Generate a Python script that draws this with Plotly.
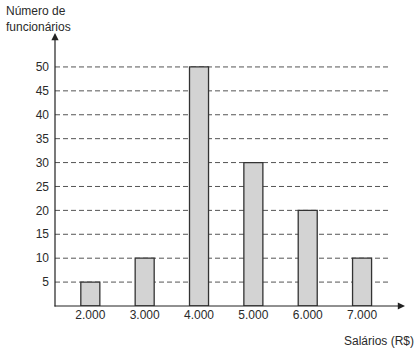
import plotly.graph_objects as go

categorias = ["2.000", "3.000", "4.000", "5.000", "6.000", "7.000"]
funcionarios = [5, 10, 50, 30, 20, 10]
y_ticks = [5, 10, 15, 20, 25, 30, 35, 40, 45, 50]

xpos = list(range(len(categorias)))

fig = go.Figure()
fig.add_trace(go.Bar(
    x=xpos, y=funcionarios, width=0.35,
    marker=dict(color="#d3d3d3", line=dict(color="#333333", width=1.3)),
))

shapes = []
for t in y_ticks:
    shapes.append(dict(type="line", xref="paper", yref="y", x0=0, x1=0.957, y0=t, y1=t,
                       line=dict(color="#555555", width=1, dash="5px,3px"), layer="below"))
fig.update_layout(shapes=shapes)

font = dict(family="Liberation Sans, Arial, sans-serif", size=12, color="#2a2a2a")

fig.update_layout(
    width=420, height=352,
    margin=dict(l=55, r=15, t=33, b=46),
    paper_bgcolor="white", plot_bgcolor="white",
    showlegend=False,
    font=font,
    xaxis=dict(range=[-0.65, 5.79], tickmode="array", tickvals=xpos, ticktext=categorias,
               showgrid=False, zeroline=False, showline=False, ticks="", fixedrange=True),
    yaxis=dict(range=[0, 57.1], tickmode="array", tickvals=y_ticks, showgrid=False,
               zeroline=False, showline=False, ticks="", ticklabelstandoff=5),
    annotations=[
        dict(xref="paper", yref="paper", x=1, y=0, ax=-352, ay=0, axref="pixel", ayref="pixel",
             showarrow=True, arrowhead=2, arrowsize=1.2, arrowwidth=1.2, arrowcolor="#222222", text=""),
        dict(xref="paper", yref="paper", x=0, y=1, ax=0, ay=275,
             showarrow=True, arrowhead=2, arrowsize=1.2, arrowwidth=1.2, arrowcolor="#222222", text=""),
        dict(xref="paper", yref="paper", x=1.03, y=-0.095, xanchor="right", yanchor="top",
             text="Salários (R$)", showarrow=False, font=font),
        dict(xref="paper", yref="paper", x=-0.145, y=1.112, xanchor="left", yanchor="top",
             text="Número de<br>funcionários", showarrow=False, align="left", font=font),
    ],
)

fig.write_html("out.html")
